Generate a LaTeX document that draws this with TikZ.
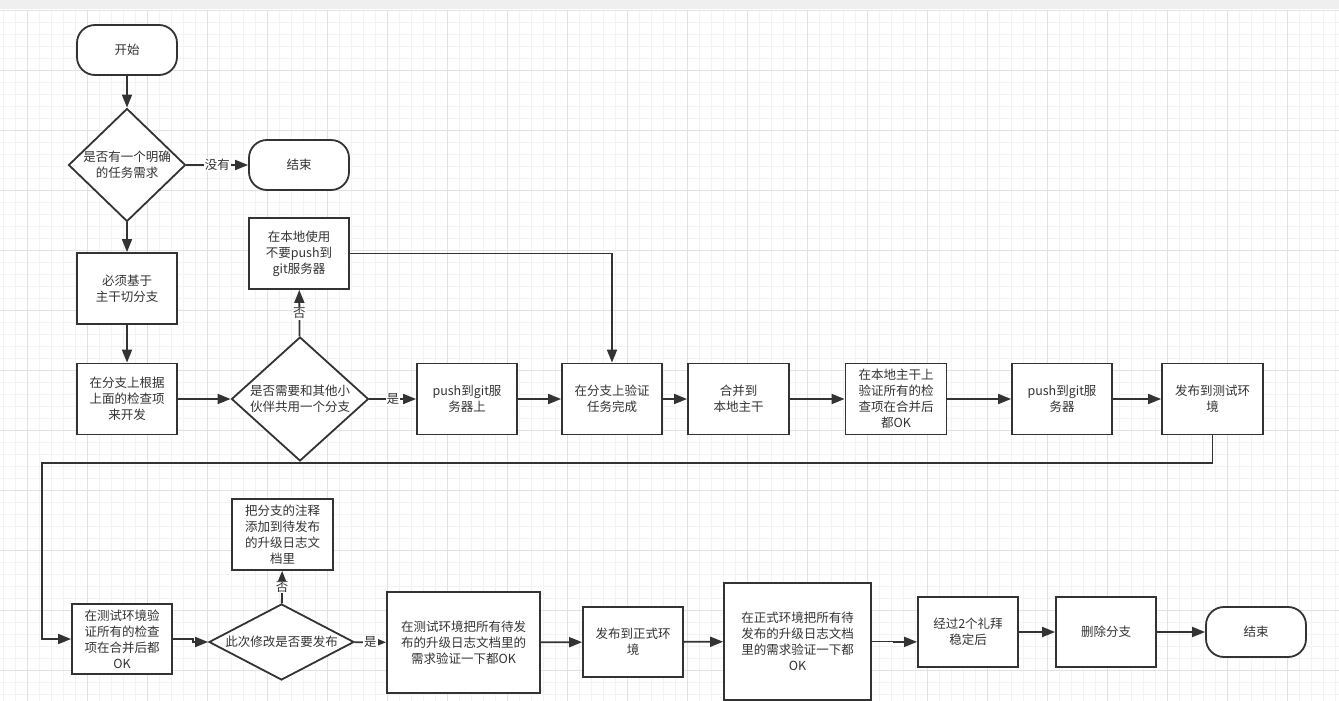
\documentclass[tikz,border=0pt]{standalone}
\usepackage{fontspec}
\setmainfont{Noto Sans CJK SC}
\usetikzlibrary{arrows.meta,shapes.geometric}
\definecolor{ink}{HTML}{333333}
\definecolor{gridminor}{HTML}{F3F3F3}
\definecolor{gridmajor}{HTML}{E2E2E2}
\definecolor{topbar}{HTML}{EFEFEF}
\tikzset{
  box/.style={draw=ink, line width=1.8pt, fill=white, align=center, text=ink,
    inner sep=2pt, minimum width=100pt, minimum height=71pt},
  term/.style={box, rounded corners=18pt, minimum height=50pt},
  decision/.style={draw=ink, line width=1.8pt, fill=white, diamond, align=center,
    text=ink, inner sep=0pt},
  flow/.style={draw=ink, line width=1.8pt, -{Triangle[length=13pt,width=10pt]}},
  lbl/.style={fill=white, inner sep=1pt, text=ink},
}
\begin{document}
\begin{tikzpicture}[x=1pt, y=-1pt, font=\fontsize{12.5pt}{16pt}\selectfont]
    % canvas
    \useasboundingbox (0,0) rectangle (1339,701);
    \fill[white] (0,0) rectangle (1339,701);
    \foreach \x in {3,15,...,1339} \draw[gridminor, line width=0.8pt] (\x,10) -- (\x,701);
    \foreach \y in {10,22,...,701} \draw[gridminor, line width=0.8pt] (0,\y) -- (1339,\y);
    \foreach \x in {27,87,...,1339} \draw[gridmajor, line width=0.8pt] (\x,10) -- (\x,701);
    \foreach \y in {10,70,...,701} \draw[gridmajor, line width=0.8pt] (0,\y) -- (1339,\y);
    \fill[topbar] (0,0) rectangle (1339,9);

    % first row
    \node[term] (start) at (127,50) {开始};
    \node[decision, aspect=1.03, minimum width=117pt, minimum height=113pt] (hastask) at (127,165) {是否有一个明确\\的任务需求};
    \node[term] (end1) at (299,165) {结束};
    \node[box] (branch) at (127,288.5) {必须基于\\主干切分支};
    \node[box] (develop) at (127,399) {在分支上根据\\上面的检查项\\来开发};
    \node[decision, aspect=1.1, minimum width=137pt, minimum height=124pt] (share) at (300,399) {是否需要和其他小\\伙伴共用一个分支};
    \node[box] (local) at (299,253.5) {在本地使用\\不要push到\\git服务器};
    \node[box] (pushbr) at (467,399) {push到git服\\务器上};
    \node[box] (verify) at (612,399) {在分支上验证\\任务完成};
    \node[box, minimum width=101pt] (merge) at (738.5,399) {合并到\\本地主干};
    \node[box, minimum width=101pt] (trunkchk) at (896,399) {在本地主干上\\验证所有的检\\查项在合并后\\都OK};
    \node[box] (pushtr) at (1062,399) {push到git服\\务器};
    \node[box, minimum width=101pt] (pubtest) at (1212.5,399) {发布到测试环\\境};

    % second row
    \node[box, minimum height=70pt] (testchk) at (122,639) {在测试环境验\\证所有的检查\\项在合并后都\\OK};
    \node[decision, aspect=1.9, minimum width=145pt, minimum height=76pt] (release) at (281.5,642) {此次修改是否要发布};
    \node[box, minimum width=101pt] (note) at (282.5,534.5) {把分支的注释\\添加到待发布\\的升级日志文\\档里};
    \node[box, minimum width=153pt, minimum height=101pt] (testlog) at (463.5,642.5) {在测试环境把所有待发\\布的升级日志文档里的\\需求验证一下都OK};
    \node[box, minimum height=70pt] (pubprod) at (633,642) {发布到正式环\\境};
    \node[box, minimum width=147pt, minimum height=117pt] (prodlog) at (797.5,641.5) {在正式环境把所有待\\发布的升级日志文档\\里的需求验证一下都\\OK};
    \node[box, minimum height=70pt] (stable) at (968,632) {经过2个礼拜\\稳定后};
    \node[box, minimum height=70pt] (delbr) at (1106,632) {删除分支};
    \node[term] (end2) at (1256,632) {结束};

    \coordinate (turn) at (42,463);

    % connectors
    \draw[flow] (start) -- (hastask);
    \draw[flow] (hastask) -- node[lbl] {没有} (end1);
    \draw[flow] (hastask) -- (branch);
    \draw[flow] (branch) -- (develop);
    \draw[flow] (develop) -- (share);
    \draw[flow] (share) -- node[lbl] {否} (local);
    \draw[flow] (share) -- node[lbl] {是} (pushbr);
    \draw[flow] (local) -| (verify);
    \draw[flow] (pushbr) -- (verify);
    \draw[flow] (verify) -- (merge);
    \draw[flow] (merge) -- (trunkchk);
    \draw[flow] (trunkchk) -- (pushtr);
    \draw[flow] (pushtr) -- (pubtest);
    \draw[flow] (pubtest) |- (turn) |- (testchk);
    \draw[flow] (testchk.east) -- ++(20,0) |- (release.west);
    \draw[flow] (release) -- node[lbl] {否} (note);
    \draw[flow] (release) -- node[lbl] {是} (testlog);
    \draw[flow] (testlog) -- (pubprod);
    \draw[flow] (pubprod) -- (prodlog);
    \draw[flow] (prodlog.east) -- ++(22,0) |- (stable.191);
    \draw[flow] (stable) -- (delbr);
    \draw[flow] (delbr) -- (end2);
\end{tikzpicture}
\end{document}
